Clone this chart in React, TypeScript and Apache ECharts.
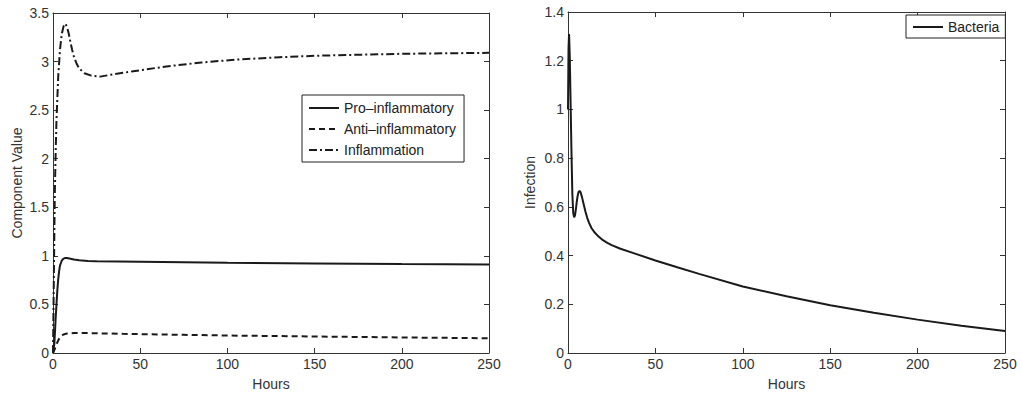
import React, { useEffect, useRef } from "react";
import * as echarts from "echarts";

const hoursTicks = [0, 50, 100, 150, 200, 250];

const proT = [0, 0.8, 1.5, 2, 2.5, 3, 3.5, 4, 5, 6, 7, 8, 10, 12, 15, 20, 25, 50, 100, 150, 200, 250];
const proV = [0, 0.1, 0.35, 0.5, 0.65, 0.76, 0.84, 0.9, 0.95, 0.972, 0.978, 0.977, 0.97, 0.962, 0.955, 0.948, 0.945, 0.94, 0.93, 0.922, 0.916, 0.912];

const antiT = [0, 1, 2, 3, 4, 5, 6, 8, 12, 20, 40, 75, 100, 150, 200, 250];
const antiV = [0, 0.04, 0.09, 0.13, 0.16, 0.178, 0.19, 0.2, 0.205, 0.205, 0.197, 0.187, 0.18, 0.17, 0.16, 0.152];

const inflT = [0, 0.5, 1, 1.5, 2, 3, 4, 5, 6, 7, 8, 9, 10, 11, 12, 13.5, 15, 18, 22, 27, 35, 46, 65, 85, 105, 130, 151, 175, 200, 225, 250];
const inflV = [0, 0.8, 1.6, 2.05, 2.4, 2.85, 3.12, 3.28, 3.36, 3.39, 3.36, 3.29, 3.2, 3.12, 3.05, 2.98, 2.93, 2.88, 2.855, 2.845, 2.87, 2.9, 2.95, 2.99, 3.02, 3.045, 3.06, 3.07, 3.08, 3.085, 3.09];

const bactT = [0, 0.3, 0.6, 1, 1.5, 2, 2.5, 3, 3.5, 4, 4.5, 5, 5.5, 6, 6.6, 7.2, 8, 9, 10, 11, 12, 13.5, 15, 17.5, 20, 22.5, 25, 30, 37.5, 50, 62.5, 75, 100, 125, 150, 175, 200, 225, 250];
const bactV = [1.0, 1.25, 1.31, 1.22, 1.02, 0.82, 0.65, 0.575, 0.557, 0.565, 0.59, 0.62, 0.645, 0.66, 0.665, 0.66, 0.64, 0.61, 0.58, 0.555, 0.535, 0.512, 0.497, 0.478, 0.463, 0.452, 0.443, 0.428, 0.41, 0.38, 0.352, 0.325, 0.273, 0.233, 0.196, 0.165, 0.137, 0.112, 0.09];

const zip = (t: number[], v: number[]) => t.map((x, i) => [x, v[i]]);

const FONT = "Liberation Sans, Arial, sans-serif";
const AXC = "#333";
const LC = "#1a1a1a";
const FS = 14;

export default function App() {
  const ref = useRef<HTMLDivElement>(null);
  useEffect(() => {
    const chart = echarts.init(ref.current!, null, { renderer: "svg" });
    const baseX = (grid: number, pos: "bottom" | "top", show: boolean) => ({
      type: "value",
      gridIndex: grid,
      position: pos,
      min: hoursTicks[0],
      max: hoursTicks[hoursTicks.length - 1],
      interval: hoursTicks[1] - hoursTicks[0],
      name: show ? "Hours" : "",
      nameLocation: "middle",
      nameGap: 24,
      nameTextStyle: { color: AXC, fontFamily: FONT, fontSize: FS },
      axisLine: { show: true, onZero: false, lineStyle: { color: AXC, width: 1 } },
      axisTick: { show: true, inside: true, length: 5, lineStyle: { color: AXC } },
      axisLabel: { show, color: AXC, fontFamily: FONT, fontSize: FS, margin: 4 },
      splitLine: { show: false },
    });
    const baseY = (grid: number, pos: "left" | "right", show: boolean, max: number, interval: number, name: string, gap: number) => ({
      type: "value",
      gridIndex: grid,
      position: pos,
      min: 0,
      max,
      interval,
      name: show ? name : "",
      nameLocation: "middle",
      nameGap: gap,
      nameTextStyle: { color: AXC, fontFamily: FONT, fontSize: FS },
      axisLine: { show: true, onZero: false, lineStyle: { color: AXC, width: 1 } },
      axisTick: { show: true, inside: true, length: 5, lineStyle: { color: AXC } },
      axisLabel: {
        show,
        color: AXC,
        fontFamily: FONT,
        fontSize: FS,
        margin: 4,
        formatter: (v: number) => String(+v.toFixed(1)),
      },
      splitLine: { show: false },
    });
    const line = (name: string, data: number[][], type: any, xi: number, yi: number) => ({
      name,
      type: "line",
      xAxisIndex: xi,
      yAxisIndex: yi,
      data,
      symbol: "none",
      showSymbol: false,
      smooth: false,
      lineStyle: { color: LC, width: 2, type },
      itemStyle: { color: LC },
    });
    const legendCommon = {
      orient: "vertical",
      itemWidth: 30,
      itemHeight: 10,
      borderColor: "#222",
      borderWidth: 1,
      backgroundColor: "#fff",
      itemStyle: { opacity: 0 },
      textStyle: { color: "#222", fontFamily: FONT, fontSize: FS },
    };
    chart.setOption({
      animation: false,
      backgroundColor: "#fff",
      grid: [
        { left: 53, right: 533, top: 13, bottom: 39 },
        { left: 568, right: 17, top: 12, bottom: 39 },
      ],
      xAxis: [baseX(0, "bottom", true), baseX(0, "top", false), baseX(1, "bottom", true), baseX(1, "top", false)],
      yAxis: [
        baseY(0, "left", true, 3.5, 0.5, "Component Value", 29),
        baseY(0, "right", false, 3.5, 0.5, "", 0),
        baseY(1, "left", true, 1.4, 0.2, "Infection", 31),
        baseY(1, "right", false, 1.4, 0.2, "", 0),
      ],
      legend: [
        {
          ...legendCommon,
          data: ["Pro\u2013inflammatory", "Anti\u2013inflammatory", "Inflammation"],
          left: 302,
          top: 95,
          itemGap: 7,
          padding: [6, 8, 5, 6],
        },
        {
          ...legendCommon,
          data: ["Bacteria"],
          left: 906,
          top: 15,
          padding: [5, 6, 4, 6],
        },
      ],
      series: [
        line("Pro\u2013inflammatory", zip(proT, proV), "solid", 0, 0),
        line("Anti\u2013inflammatory", zip(antiT, antiV), [6, 4], 0, 0),
        line("Inflammation", zip(inflT, inflV), [8, 3, 2, 3], 0, 0),
        line("Bacteria", zip(bactT, bactV), "solid", 2, 2),
      ],
    });
    return () => chart.dispose();
  }, []);
  return <div ref={ref} style={{ width: 1022, height: 396, position: "absolute", left: 0, top: 0 }} />;
}
